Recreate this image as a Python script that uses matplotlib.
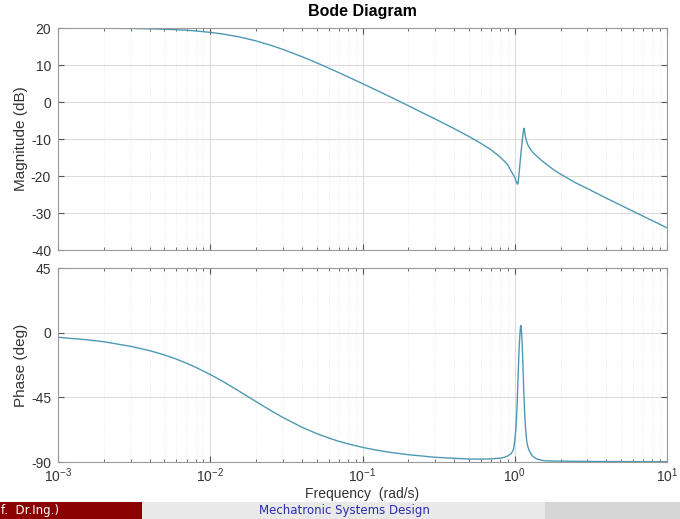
import matplotlib.pyplot as plt
from matplotlib.patches import Rectangle
from matplotlib.ticker import LogLocator, FixedLocator, NullFormatter

plt.rcParams['font.family'] = ['Liberation Sans', 'DejaVu Sans']
plt.rcParams['axes.unicode_minus'] = False

# frequencies (rad/s)
freq = [0.001, 0.0015, 0.002, 0.003, 0.004, 0.005, 0.006, 0.007, 0.008, 0.01,
        0.012, 0.015, 0.017, 0.02, 0.025, 0.03, 0.04, 0.05, 0.06, 0.07,
        0.08, 0.1, 0.12, 0.15, 0.2, 0.25, 0.3, 0.4, 0.5, 0.6,
        0.7, 0.8, 0.85, 0.9, 0.95, 0.98, 1.0, 1.01, 1.02, 1.035,
        1.046, 1.053, 1.06, 1.07, 1.08, 1.087, 1.094, 1.1, 1.11, 1.12,
        1.13, 1.14, 1.15, 1.16, 1.17, 1.18, 1.2, 1.22, 1.25, 1.3,
        1.35, 1.4, 1.5, 1.6, 1.8, 2.0, 2.5, 3.0, 4.0, 5.0,
        6.0, 7.0, 8.0, 10.0]

# magnitude in dB
mag_db = [19.99, 19.97, 19.95, 19.88, 19.79, 19.68, 19.54, 19.39, 19.22, 18.83,
          18.40, 17.71, 17.23, 16.51, 15.33, 14.23, 12.26, 10.60, 9.17, 7.93,
          6.83, 4.97, 3.43, 1.52, -1.0, -3.0, -4.58, -7.2, -9.31, -11.17,
          -12.94, -14.85, -15.9, -17.0, -18.8, -19.7, -20.3, -20.9, -21.4, -22.0,
          -22.2, -21.6, -20.5, -18.8, -17.0, -15.8, -14.6, -13.5, -12.0, -10.4,
          -9.0, -7.8, -7.1, -7.8, -8.9, -9.7, -10.8, -11.6, -12.4, -13.4,
          -14.1, -14.7, -15.8, -16.7, -18.3, -19.5, -21.8, -23.4, -26.0, -27.95,
          -29.56, -30.9, -32.06, -34.0]

# phase in degrees
phase_deg = [-3.2, -4.8, -6.3, -9.5, -12.5, -15.5, -18.4, -21.3, -24.0, -29.1,
             -33.7, -39.8, -43.4, -48.0, -54.2, -59.0, -65.8, -70.2, -73.3, -75.6,
             -77.3, -79.8, -81.5, -83.2, -84.9, -85.9, -86.7, -87.4, -87.9, -88.0,
             -87.8, -87.3, -86.8, -85.8, -84.0, -81.5, -75.0, -70.5, -65.0, -52.0,
             -38.0, -29.0, -20.0, -9.0, -2.0, 2.5, 5.0, 3.8, -1.0, -9.0,
             -20.0, -33.0, -45.0, -54.5, -62.0, -68.0, -76.0, -79.5, -82.5, -85.5,
             -87.0, -87.9, -88.8, -89.2, -89.3, -89.4, -89.5, -89.6, -89.65, -89.7,
             -89.75, -89.8, -89.8, -89.8]

mag_ticks = [-40, -30, -20, -10, 0, 10, 20]
phase_ticks = [-90, -45, 0, 45]

line_color = '#4f98b3'
spine_color = '#9a9a9a'

fig = plt.figure(figsize=(6.8, 5.19), dpi=100)
ax1 = fig.add_axes([0.0853, 0.5183, 0.8956, 0.4277])
ax2 = fig.add_axes([0.0853, 0.1098, 0.8956, 0.3738])

for ax in (ax1, ax2):
    ax.set_xscale('log')
    ax.set_xlim(1e-3, 1e1)
    ax.xaxis.set_major_locator(LogLocator(base=10, numticks=10))
    ax.xaxis.set_minor_locator(LogLocator(base=10, subs=range(2, 10), numticks=100))
    ax.xaxis.set_minor_formatter(NullFormatter())
    ax.grid(True, which='major', color='#dcdcdc', linewidth=0.8)
    ax.grid(True, which='minor', axis='x', color='#e6e6e6', linewidth=0.6, linestyle=':')
    ax.tick_params(which='both', direction='in', top=True, right=True,
                   colors='#555555', labelcolor='#333333', labelsize=10)
    ax.tick_params(axis='y', pad=5)
    ax.tick_params(which='major', length=4)
    ax.tick_params(which='minor', length=2)
    for s in ax.spines.values():
        s.set_color(spine_color)
        s.set_linewidth(0.8)

ax1.plot(freq, mag_db, color=line_color, linewidth=1.0)
ax1.set_ylim(-40, 20)
ax1.yaxis.set_major_locator(FixedLocator(mag_ticks))
ax1.tick_params(axis='x', labelbottom=False)
ax1.set_ylabel('Magnitude (dB)', fontsize=11, color='#333333', labelpad=2)
ax1.set_title('Bode Diagram', fontsize=11.5, fontweight='bold', pad=9)

ax2.plot(freq, phase_deg, color=line_color, linewidth=1.0)
ax2.set_ylim(-90, 45)
ax2.yaxis.set_major_locator(FixedLocator(phase_ticks))
ax2.set_ylabel('Phase (deg)', fontsize=11, color='#333333', labelpad=2)
ax2.set_xlabel('Frequency  (rad/s)', fontsize=10, color='#333333')
ax2.xaxis.set_label_coords(0.5, -0.128)

# beamer footer bar
fh = 17 / 519
fig.patches.append(Rectangle((0, 0), 142 / 680, fh, transform=fig.transFigure,
                             facecolor='#8b0000', edgecolor='none', zorder=10))
fig.patches.append(Rectangle((142 / 680, 0), 403 / 680, fh, transform=fig.transFigure,
                             facecolor='#e9e9e9', edgecolor='none', zorder=10))
fig.patches.append(Rectangle((545 / 680, 0), 135 / 680, fh, transform=fig.transFigure,
                             facecolor='#d6d6d6', edgecolor='none', zorder=10))
fig.text(0.002, fh / 2, 'f.  Dr.Ing.)', color='white', fontsize=8.5,
         va='center', ha='left', zorder=11, family=['DejaVu Sans'])
fig.text(344 / 680, fh / 2, 'Mechatronic Systems Design', color='#2b2bb0',
         fontsize=8.5, va='center', ha='center', zorder=11, family=['DejaVu Sans'])

fig.savefig('out.png', dpi=100)
